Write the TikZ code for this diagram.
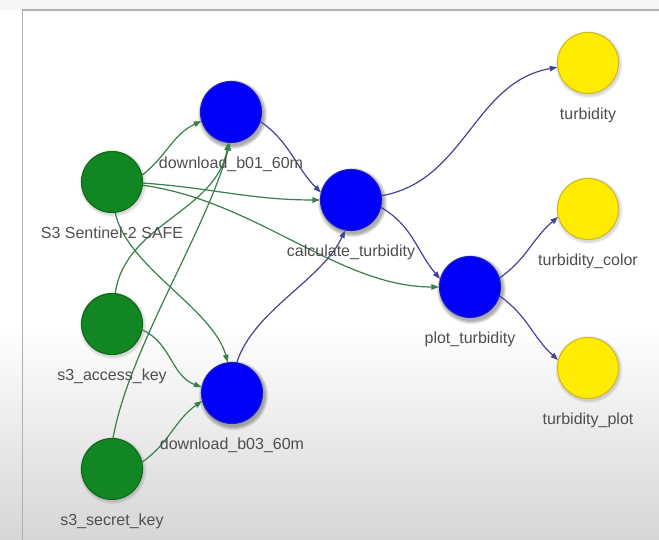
\documentclass[tikz,border=0pt]{standalone}
\usepackage{fontspec}
\setmainfont{Liberation Sans}
\usetikzlibrary{arrows.meta}

\definecolor{grnfill}{RGB}{18,134,34}
\definecolor{grnline}{RGB}{14,104,28}
\definecolor{blufill}{RGB}{0,0,250}
\definecolor{bluline}{RGB}{28,28,190}
\definecolor{yelfill}{RGB}{255,236,0}
\definecolor{yelline}{RGB}{208,188,30}
\definecolor{gedge}{RGB}{55,128,72}
\definecolor{bedge}{RGB}{68,68,150}
\definecolor{txt}{RGB}{78,78,78}
\definecolor{framec}{RGB}{176,176,176}

\pgfdeclarelayer{bg}
\pgfdeclarelayer{edges}
\pgfsetlayers{bg,edges,main}

\begin{document}
\begin{tikzpicture}[x=1bp,y=1bp,
  vert/.style={circle, minimum size=61bp, inner sep=0pt, line width=1.1bp},
  src/.style={vert, fill=grnfill, draw=grnline},
  task/.style={vert, fill=blufill, draw=bluline},
  product/.style={vert, fill=yelfill, draw=yelline},
  lbl/.style={font=\fontsize{16bp}{18bp}\selectfont, text=txt, inner sep=0pt, anchor=base},
  flow/.style={line width=1.2bp, -{Triangle[length=7.5bp,width=5.5bp]}},
  gflow/.style={flow, draw=gedge},
  bflow/.style={flow, draw=bedge},
  halo/.style={fill=black}
]
\useasboundingbox (0,0) rectangle (659,540);

% vertices
\node[src]     (safe)   at (112,358) {};
\node[src]     (access) at (112,216) {};
\node[src]     (secret) at (112,71)  {};
\node[task]    (b01)    at (231,428) {};
\node[task]    (b03)    at (232,147) {};
\node[task]    (calc)   at (351,340) {};
\node[task]    (plot)   at (470,253) {};
\node[product] (turb)   at (588,477) {};
\node[product] (tcolor) at (588,331) {};
\node[product] (tplot)  at (588,172) {};

% page background, frame and soft shadows under the vertices
\begin{pgfonlayer}{bg}
  \clip (0,0) rectangle (659,540);
  \fill[white] (0,215) rectangle (659,540);
  \shade[top color=white, bottom color=black!16] (0,0) rectangle (659,215.5);
  \fill[black!4] (0,530) rectangle (659,540);
  \draw[framec, line width=1.6bp] (22.5,-2) -- (22.5,530) -- (661,530);
  \foreach \v in {safe,access,secret,turb,tcolor,tplot} {
    \foreach \r in {31.5,32.5,33.5}
      \fill[halo, opacity=0.05] ([shift={(1,-1.5)}]\v.center) circle (\r);
  }
  \foreach \v in {b01,b03,calc,plot} {
    \foreach \r in {31.5,32.5,33.5,34.5}
      \fill[halo, opacity=0.09] ([shift={(1.5,-2.5)}]\v.center) circle (\r);
  }
\end{pgfonlayer}

% labels below the vertices
\node[lbl] (safe-l)   at ([yshift=-57bp]safe.center)   {S3 Sentinel-2 SAFE};
\node[lbl] (access-l) at ([yshift=-57bp]access.center) {s3\_access\_key};
\node[lbl] (secret-l) at ([yshift=-57bp]secret.center) {s3\_secret\_key};
\node[lbl] (b01-l)    at ([yshift=-57bp]b01.center)    {download\_b01\_60m};
\node[lbl] (b03-l)    at ([yshift=-57bp]b03.center)    {download\_b03\_60m};
\node[lbl] (calc-l)   at ([yshift=-57bp]calc.center)   {calculate\_turbidity};
\node[lbl] (plot-l)   at ([yshift=-57bp]plot.center)   {plot\_turbidity};
\node[lbl] (turb-l)   at ([yshift=-57bp]turb.center)   {turbidity};
\node[lbl] (tcolor-l) at ([yshift=-57bp]tcolor.center) {turbidity\_color};
\node[lbl] (tplot-l)  at ([yshift=-57bp]tplot.center)  {turbidity\_plot};

% connectors
\begin{pgfonlayer}{edges}
  % inputs
  \draw[gflow] (safe.13) to[out=38, in=205] (b01.197);
  \draw[gflow] (safe.-2) to[out=-4, in=180] (calc.180);
  \draw[gflow] (safe.-6) to[out=-8, in=180, out distance=115bp, in distance=100bp] (plot.180);
  \draw[gflow] (safe.-84) to[out=-78, in=105, out distance=55bp, in distance=55bp] (b03.98);
  \draw[gflow] (access.84) to[out=82, in=-100, out distance=70bp, in distance=70bp] (b01.265);
  \draw[gflow] (access.-11) to[out=-25, in=160] (b03.169);
  \draw[gflow] (secret.88) to[out=80, in=-105, out distance=90bp, in distance=90bp] (b01.268);
  \draw[gflow] (secret.13) to[out=35, in=215] (b03.195);
  % tasks
  \draw[bflow] (b01.-18) to[out=-35, in=135] (calc.166);
  \draw[bflow] (b03.81) to[out=72, in=-115, out distance=55bp, in distance=55bp] (calc.259);
  \draw[bflow] (calc.8) to[out=10, in=190, out distance=85bp, in distance=85bp] (turb.188);
  \draw[bflow] (calc.-14) to[out=-30, in=130] (plot.165);
  \draw[bflow] (plot.17) to[out=35, in=220] (tcolor.195);
  \draw[bflow] (plot.-17) to[out=-35, in=138] (tplot.165);
\end{pgfonlayer}
\end{tikzpicture}
\end{document}
